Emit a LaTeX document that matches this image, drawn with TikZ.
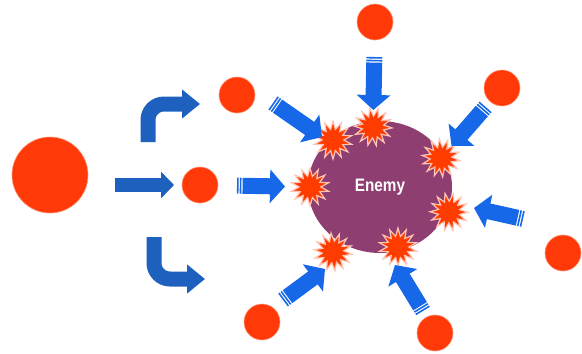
\documentclass[tikz,border=0pt]{standalone}
\usepackage{fontspec}
\setsansfont{Liberation Sans}
\usetikzlibrary{arrows.meta,shapes.geometric}

\definecolor{shot}{RGB}{255,58,8}
\definecolor{foe}{RGB}{142,62,112}
\definecolor{hitblue}{RGB}{22,104,232}
\definecolor{turnblue}{RGB}{30,96,190}
\definecolor{flash}{RGB}{255,60,0}
\definecolor{glow}{RGB}{255,196,180}

\begin{document}
\begin{tikzpicture}[x = 1pt, y = -1pt,
    ball/.style  = {circle, fill=shot, draw=shot!55!white, line width=0.6pt,
                    minimum size=36pt, inner sep=0pt},
    blast/.style = {star, star points=14, star point ratio=1.75, fill=flash,
                    draw=glow, line width=1.2pt, minimum size=38pt, inner sep=0pt},
    hit/.style   = {hitblue, line width=16pt,
                    dash pattern=on 1.6pt off 1.2pt on 1.6pt off 1.2pt on 400pt off 0pt,
                    -{Triangle[width=33pt,length=15pt]}},
    turn/.style  = {turnblue, line width=15pt, rounded corners=16pt,
                    -{Triangle[width=28pt,length=18pt]}}]
    \useasboundingbox (0,0) rectangle (582,354);

    % target and impacts
    \node[ellipse, fill=foe, minimum width=144pt, minimum height=132pt,
          text=white, font=\sffamily\bfseries\fontsize{18}{18}\selectfont]
          (enemy) at (380,187) {\scalebox{0.85}[1]{Enemy}};
    \node[blast]                         (b1) at (333,140) {};
    \node[blast, shape border rotate=10] (b2) at (373,127) {};
    \node[blast, shape border rotate=5]  (b3) at (441,158) {};
    \node[blast]                         (b4) at (310,187) {};
    \node[blast, shape border rotate=12] (b5) at (449,212) {};
    \node[blast, shape border rotate=6]  (b6) at (333,252) {};
    \node[blast]                         (b7) at (398,247) {};

    % shots
    \node[ball, minimum size=76pt] (gun)       at ( 50,175) {};
    \node[ball]                    (mid)       at (200,185) {};
    \node[ball]                    (upper)     at (237, 95) {};
    \node[ball]                    (north)     at (375, 22) {};
    \node[ball]                    (northeast) at (502, 88) {};
    \node[ball]                    (east)      at (563,253) {};
    \node[ball]                    (southeast) at (435,333) {};
    \node[ball]                    (southwest) at (262,322) {};

    % splitting arrows
    \coordinate (muzzle)   at (115,185);
    \coordinate (upstart)  at (148,142);
    \coordinate (upend)    at (200,104);
    \coordinate (dnstart)  at (154,237);
    \coordinate (dnend)    at (205,279);
    \draw[turnblue, line width=14pt, -{Triangle[width=26pt,length=13pt]},
          shorten >=26pt] (muzzle) -- (mid.center);
    \draw[turn] (upstart) |- (upend);
    \draw[turn] (dnstart) |- (dnend);

    % hits
    \coordinate (nwtail) at (273,103);
    \coordinate (nwtip)  at (322,137);
    \coordinate (etail)  at (523,219);
    \coordinate (etip)   at (474,208);
    \coordinate (swtail) at (283,300);
    \coordinate (swtip)  at (325,269);
    \coordinate (setail) at (423,311);
    \coordinate (setip)  at (395,265);
    \draw[hit, shorten <=35pt, shorten >=17pt] (north.center) -- (b2.center);
    \draw[hit, shorten <=25pt, shorten >=16pt] (northeast.center) -- (b3.center);
    \draw[hit, shorten <=37pt, shorten >=25pt] (mid.center) -- (b4.center);
    \draw[hit] (nwtail) -- (nwtip);
    \draw[hit] (etail)  -- (etip);
    \draw[hit] (swtail) -- (swtip);
    \draw[hit] (setail) -- (setip);
\end{tikzpicture}
\end{document}
